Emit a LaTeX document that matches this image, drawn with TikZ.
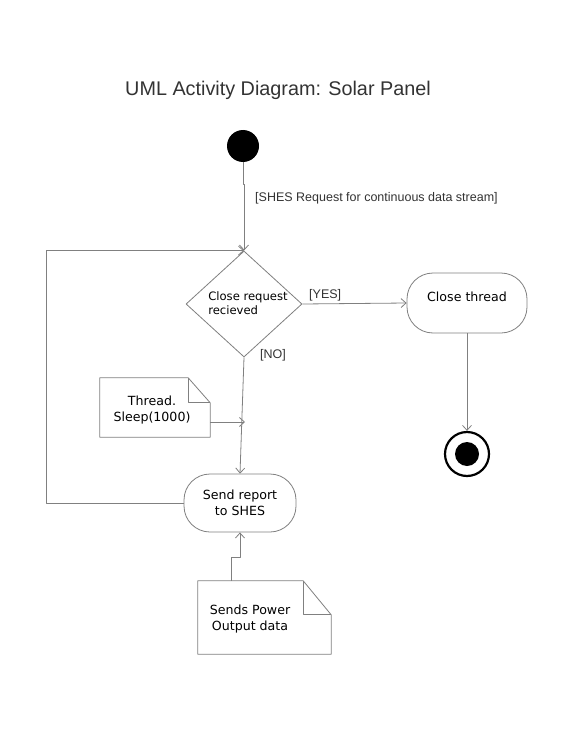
\documentclass[tikz,border=0pt]{standalone}
\usepackage{fontspec}
\setmainfont{Liberation Sans}
\newfontfamily\boxfont{DejaVu Sans}
\usetikzlibrary{shapes.geometric,arrows.meta}
\definecolor{linegray}{HTML}{808080}
\definecolor{labelgray}{HTML}{333333}
\tikzset{
  flow/.style={draw=linegray, line width=.8pt, -{Straight Barb[length=5pt,width=9pt]}},
  action/.style={draw=linegray, line width=.8pt, rectangle, rounded corners=26pt, align=center,
    font=\boxfont\fontsize{12.6}{16}\selectfont, inner sep=0pt},
  decision/.style={draw=linegray, line width=.8pt, diamond, minimum width=116pt, minimum height=106pt,
    inner sep=0pt},
  notebox/.style={rectangle, inner sep=0pt},
  notetext/.style={inner sep=0pt, align=center, font=\boxfont\fontsize{12.6}{16}\selectfont},
  guard/.style={anchor=west, text=labelgray, inner sep=0pt, font=\fontsize{12.5}{14}\selectfont}
}
\newcommand\drawnote[3]{% node, fold width, fold height
  \draw[linegray, line width=.8pt] (#1.north west) -- ([xshift=-#2]#1.north east)
    -- ([yshift=-#3]#1.north east) -- (#1.south east) -- (#1.south west) -- cycle;
  \draw[linegray, line width=.8pt] ([xshift=-#2]#1.north east) -- ([xshift=-#2,yshift=-#3]#1.north east)
    -- ([yshift=-#3]#1.north east);
}
\begin{document}
\begin{tikzpicture}[x=1pt, y=-1pt, line join=round]
\useasboundingbox (0,0) rectangle (563,733);
\fill[white] (0,0) rectangle (563,733);
% title
\node[font=\fontsize{19.8}{22}\selectfont, text=labelgray] (title) at (278,90) {UML Activity Diagram: Solar Panel};
% nodes
\fill (243,146) circle (16);
\node[circle, minimum size=32pt, inner sep=0pt] (start) at (243,146) {};
\node[decision] (dec) at (244,304) {};
\node[align=left, inner sep=0pt, font=\boxfont\fontsize{11.6}{14.5}\selectfont] (dectext) at (248,303) {Close request\\recieved};
\node[action, minimum width=120pt, minimum height=60pt] (closeth) at (467,303) {\raisebox{2pt}[0pt][0pt]{Close thread}};
\node[action, minimum width=112pt, minimum height=58pt] (send) at (240,503) {\raisebox{-2pt}{Send report}\\\raisebox{-2pt}{to SHES}};
\node[circle, draw=black, line width=2.2pt, minimum size=44pt, inner sep=0pt] (final) at (467,454) {};
\fill (final) circle (12);
\node[notebox, minimum width=110pt, minimum height=59pt] (sleep) at (155,407.5) {};
\drawnote{sleep}{22pt}{25pt}
\node[notetext] (sleeptext) at (152,410) {Thread.\\Sleep(1000)};
\node[notebox, minimum width=133pt, minimum height=73pt] (power) at (264.5,617.5) {};
\drawnote{power}{28pt}{34pt}
\node[notetext] (powertext) at (250,619.5) {Sends Power\\Output data};
% connectors
\draw[flow] (start.south) -- ++(0,22) -| (dec.north);
\node[guard] (req) at (255,198) {[SHES Request for continuous data stream]};
\draw[flow] (dec.east) -- (closeth.west);
\node[guard] (yes) at (309,295) {[YES]};
\draw[flow] (dec.south) -- (send.north);
\node[guard] (no) at (260,355) {[NO]};
\draw[flow] (closeth.south) -- (final.north);
\coordinate (sleepin) at (245,422);
\draw[flow] (sleep.east |- sleepin) -- (sleepin);
\draw[flow] (send.west) -- ++(-137,0) |- (dec.north);
\draw[flow] ([xshift=-33.5pt]power.north) -- ++(0,-23) -| (send.south);
\end{tikzpicture}
\end{document}
